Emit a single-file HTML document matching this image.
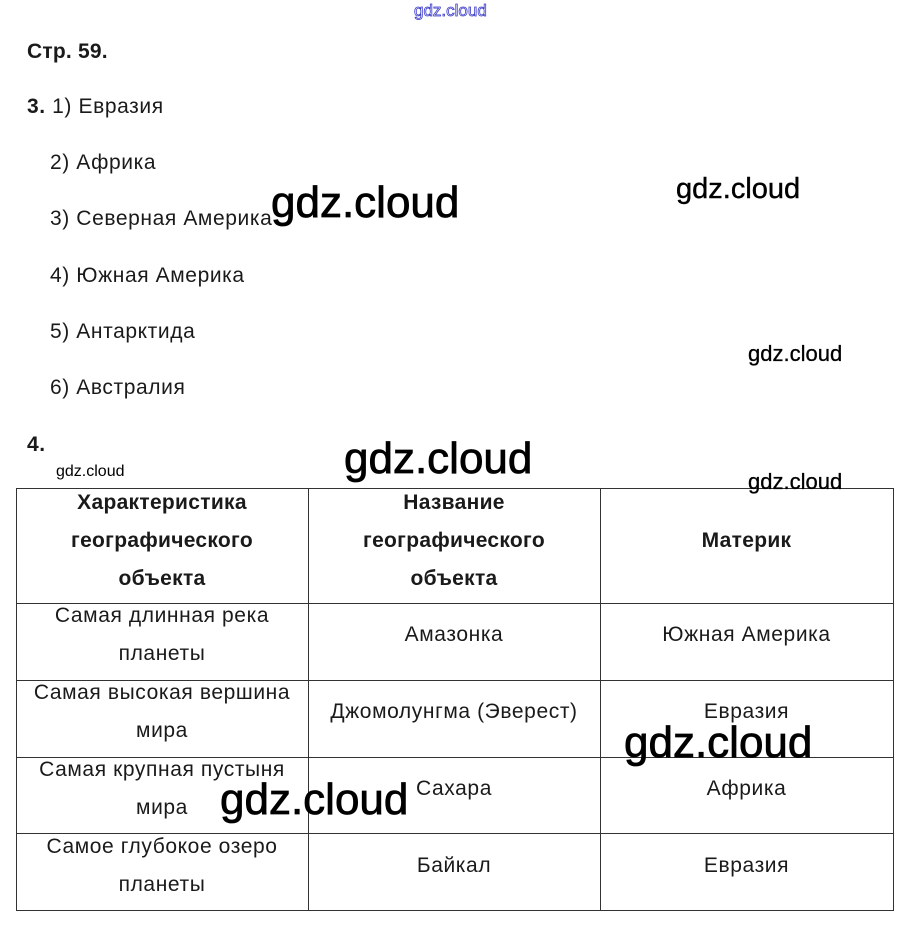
<!DOCTYPE html>
<html><head><meta charset="utf-8"><style>
html,body{margin:0;padding:0;background:#fff;}
body{width:905px;height:929px;position:relative;overflow:hidden;font-family:"Liberation Sans",Arial,sans-serif;color:#1a1a1a;}
.t{position:absolute;font-size:21px;line-height:20px;white-space:nowrap;letter-spacing:0.6px;}
.b{font-weight:bold;}
.w{position:absolute;font-family:"Liberation Sans",sans-serif;color:#000;white-space:nowrap;z-index:5;}
.hl{position:absolute;height:1px;background:#333;left:16px;width:878px;}
.vl{position:absolute;width:1px;background:#333;top:488px;height:423px;}
.c{position:absolute;text-align:center;font-size:21px;line-height:38px;letter-spacing:0.6px;white-space:nowrap;}
</style></head><body>
<div class="w" style="left:414px;top:1px;font-size:17px;line-height:20px;color:#fff;-webkit-text-stroke:0.8px #3a3ac8;">gdz.cloud</div>
<div class="t b" style="left:27px;top:42px;letter-spacing:0.2px;">Стр. 59.</div>
<div class="t" style="left:27px;top:97px;"><b>3.</b> 1) Евразия</div>
<div class="t" style="left:50px;top:153px;">2) Африка</div>
<div class="t" style="left:50px;top:209px;">3) Северная Америка</div>
<div class="t" style="left:50px;top:266px;">4) Южная Америка</div>
<div class="t" style="left:50px;top:322px;">5) Антарктида</div>
<div class="t" style="left:50px;top:378px;">6) Австралия</div>
<div class="t b" style="left:27px;top:435px;">4.</div>

<div class="hl" style="top:488px"></div>
<div class="hl" style="top:603px"></div>
<div class="hl" style="top:680px"></div>
<div class="hl" style="top:757px"></div>
<div class="hl" style="top:833px"></div>
<div class="hl" style="top:910px"></div>
<div class="vl" style="left:16px"></div>
<div class="vl" style="left:308px"></div>
<div class="vl" style="left:600px"></div>
<div class="vl" style="left:893px"></div>

<div class="c b" style="left:16px;width:292px;top:484px;letter-spacing:0.3px;">Характеристика<br>географического<br>объекта</div>
<div class="c b" style="left:308px;width:292px;top:484px;letter-spacing:0.3px;">Название<br>географического<br>объекта</div>
<div class="c b" style="left:600px;width:293px;top:522px;letter-spacing:0.3px;">Материк</div>

<div class="c" style="left:16px;width:292px;top:597px;">Самая длинная река<br>планеты</div>
<div class="c" style="left:308px;width:292px;top:616px;">Амазонка</div>
<div class="c" style="left:600px;width:293px;top:616px;">Южная Америка</div>

<div class="c" style="left:16px;width:292px;top:674px;">Самая высокая вершина<br>мира</div>
<div class="c" style="left:308px;width:292px;top:693px;">Джомолунгма (Эверест)</div>
<div class="c" style="left:600px;width:293px;top:693px;">Евразия</div>

<div class="c" style="left:16px;width:292px;top:751px;">Самая крупная пустыня<br>мира</div>
<div class="c" style="left:308px;width:292px;top:770px;">Сахара</div>
<div class="c" style="left:600px;width:293px;top:770px;">Африка</div>

<div class="c" style="left:16px;width:292px;top:828px;">Самое глубокое озеро<br>планеты</div>
<div class="c" style="left:308px;width:292px;top:847px;">Байкал</div>
<div class="c" style="left:600px;width:293px;top:847px;">Евразия</div>

<div class="w" style="left:271px;top:178px;font-size:44px;line-height:50px;-webkit-text-stroke:0.8px #000;">gdz.cloud</div>
<div class="w" style="left:676px;top:172px;font-size:29px;line-height:34px;-webkit-text-stroke:0.4px #000;">gdz.cloud</div>
<div class="w" style="left:748px;top:341px;font-size:22px;line-height:26px;-webkit-text-stroke:0.3px #000;">gdz.cloud</div>
<div class="w" style="left:748px;top:469px;font-size:22px;line-height:26px;-webkit-text-stroke:0.3px #000;">gdz.cloud</div>
<div class="w" style="left:56px;top:462px;font-size:16px;line-height:20px;">gdz.cloud</div>
<div class="w" style="left:344px;top:434px;font-size:44px;line-height:50px;-webkit-text-stroke:0.8px #000;">gdz.cloud</div>
<div class="w" style="left:624px;top:718px;font-size:44px;line-height:50px;-webkit-text-stroke:0.8px #000;">gdz.cloud</div>
<div class="w" style="left:220px;top:775px;font-size:44px;line-height:50px;-webkit-text-stroke:0.8px #000;">gdz.cloud</div>
</body></html>
